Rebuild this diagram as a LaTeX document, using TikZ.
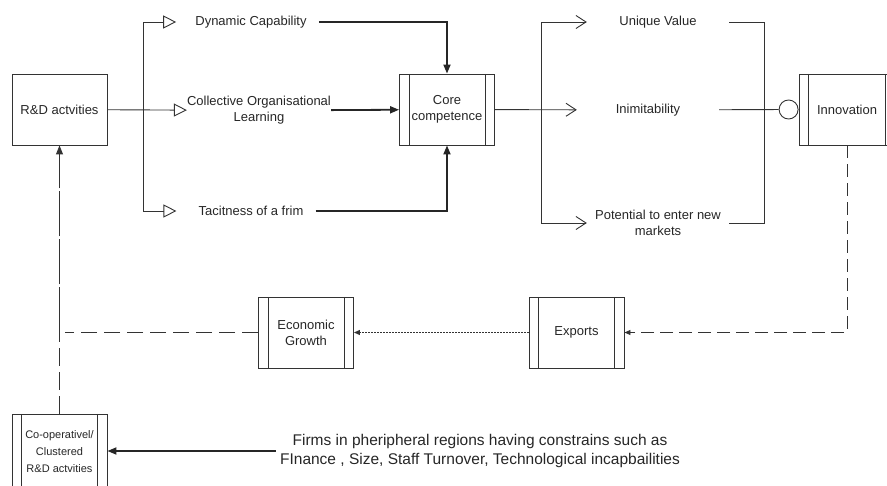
\documentclass[tikz,border=0pt]{standalone}
\usepackage{fontspec}
\setmainfont{Liberation Sans}
\usetikzlibrary{arrows.meta,positioning}

\begin{document}
\begin{tikzpicture}[x=1pt, y=-1pt, text=black!85,
  link/.style={draw=black!80, line width=0.9pt},
  heavy/.style={draw=black!85, line width=1.8pt, -{Triangle[length=9pt,width=7pt]}},
  box/.style={link, minimum width=95pt, minimum height=71pt, inner sep=0pt, align=center, font=\fontsize{13}{16}\selectfont},
  sidebox/.style={box, path picture={
    \draw [link] ([xshift=9.5pt]path picture bounding box.north west) -- ([xshift=9.5pt]path picture bounding box.south west)
      ([xshift=-9.5pt]path picture bounding box.north east) -- ([xshift=-9.5pt]path picture bounding box.south east);}},
  txt/.style={align=center, inner xsep=12pt, inner ysep=0pt, font=\fontsize{13}{16}\selectfont},
  hollow/.style={-{Triangle[open,length=13pt,width=13pt]}},
  barb/.style={-{Straight Barb[length=10pt,width=13pt]}},
  small/.style={-{Triangle[length=6pt,width=5pt]}}]
\clip (0,0) rectangle (887,486);

% boxes
\node [box] (rd) at (59.5,109.5) {R\&D actvities};
\node [sidebox] (core) at (447,109.5) {Core\\competence};
\node [sidebox, minimum width=96pt] (innov) at (847,109.5) {Innovation};
\node [sidebox] (growth) at (306,332.5) {Economic\\Growth};
\node [sidebox] (exports) at (576.5,332.5) {Exports};
\node [sidebox, minimum height=76pt, font=\fontsize{11}{17}\selectfont] (coop) at (59.5,452) {Co-operativel/\\Clustered\\R\&D actvities};

% labels
\node [txt] (dyn) at (251,22) {Dynamic Capability};
\node [txt, inner xsep=0pt] (col) at (259,110.5) {Collective Organisational\\Learning};
\node [txt] (tac) at (251,211) {Tacitness of a frim};
\node [txt, inner xsep=0pt, minimum width=142pt] (uniq) at (658,22) {Unique Value};
\node [txt, inner xsep=0pt, minimum width=142pt] (inim) at (648,110) {Inimitability};
\node [txt, inner xsep=0pt, minimum width=142pt] (pot) at (658,223) {Potential to enter new\\markets};
\node [circle, link, minimum size=19pt, inner sep=0pt, left=0pt of innov] (gate) {};
\node [align=center, inner sep=4pt, font=\fontsize{15.5}{19.5}\selectfont] (firms) at (480,451) {Firms in pheripheral regions having constrains such as\\FInance , Size, Staff Turnover, Technological incapbailities};

\coordinate (rdbus) at (143,109.5);
\coordinate (corebus) at (541,109.5);
\coordinate (turn) at (59.5,332.5);

% R&D branches
\draw [link, hollow] (rd) -- (col);
\draw [link, hollow, shorten >=7pt] (rdbus) |- (dyn.west);
\draw [link, hollow, shorten >=10pt] (rdbus) |- (tac.west);
\draw [heavy] (dyn) -| (core);
\draw [heavy] (col) -- (core);
\draw [heavy] (tac) -| (core);

% core competence branches
\draw [link, barb] (core) -- (inim);
\draw [link, barb] (corebus) |- (uniq.west);
\draw [link, barb] (corebus) |- (pot.west);
\draw [link] (uniq.east) -- ++(35,0) |- (pot.east);
\draw [link] (inim) -- (gate);

% feedback loop
\draw [link, small, dash pattern=on 13pt off 6pt] (innov) |- (exports);
\draw [link, small, line width=1.1pt, dash pattern=on 1.2pt off 1.8pt] (exports) -- (growth);
\draw [link, dash pattern=on 16pt off 7pt, shorten >=5pt] (growth) -- (turn);
\draw [link, dash pattern=on 18pt off 6pt] (coop) -- (turn);
\draw [link, dash pattern=on 45pt off 3pt, -{Triangle[length=9pt,width=7pt]}] (turn) -- (rd);
\draw [heavy] (firms.west) -- (firms.west -| coop.east);
\end{tikzpicture}
\end{document}
